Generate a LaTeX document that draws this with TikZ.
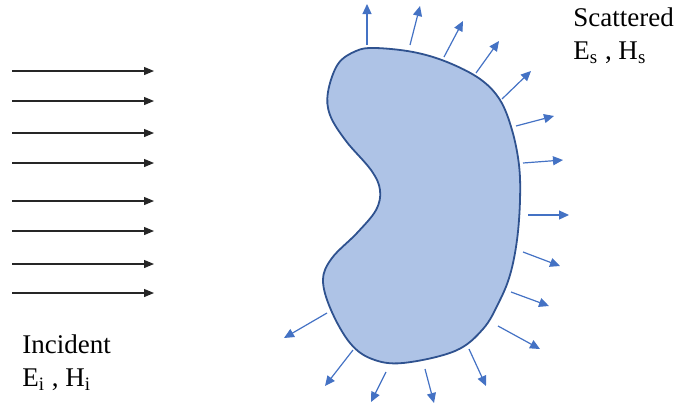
\documentclass[tikz,border=0pt]{standalone}
\usepackage{fontspec}
\setmainfont{Liberation Serif}
\usepackage{tikz}
\usetikzlibrary{arrows.meta}
\definecolor{bodyfill}{RGB}{174,195,230}
\definecolor{bodyline}{RGB}{47,82,143}
\definecolor{scatblue}{RGB}{68,114,196}

\begin{document}
\begin{tikzpicture}[
  x=0.5pt, y=-0.5pt,
  every node/.style={font=\fontsize{13.5}{16}\selectfont, inner sep=0pt},
  inc/.style={-{Triangle[length=5pt, width=4pt]}, line width=0.6pt, black!85},
  scat/.style={-{Triangle[length=5pt, width=4.5pt]}, line width=0.6pt, scatblue},
  lbl/.style={anchor=base west}
]
\useasboundingbox (0,0) rectangle (678,407);
% scatterer
\draw[bodyline, line width=0.9pt, fill=bodyfill] plot[smooth cycle, tension=0.6] coordinates {
  (375,48) (413,52) (447,62) (480,79) (500,100) (512,130) (519,165) (520,200)
  (517,240) (510,275) (499,302) (483,329) (455,351) (403,363) (372,359)
  (350,343) (331,310) (323,280) (332,258) (357,233) (376,210) (380,190)
  (371,170) (346,141) (330,115) (328,92) (338,64) (356,51)};
% incident field
\foreach \y [count=\i] in {71,101,133,163,201,231,264,293} {
  \coordinate (i\i a) at (12,\y);
  \coordinate (i\i b) at (154,\y);
  \draw[inc] (i\i a) -- (i\i b);
}
% scattered field
\foreach \xa/\ya/\xb/\yb [count=\i] in {
  367/45/367/4, 410/45/420/6, 444/57/463/21, 476/73/499/41, 502/99/531/71,
  516/126/554/116, 523/163/563/160, 528/215/569/215, 523/252/560/266,
  511/292/549/306, 498/326/540/349, 469/349/486/386, 425/369/434/403,
  386/372/371/402, 353/350/325/386, 327/313/284/338} {
  \coordinate (s\i a) at (\xa,\ya);
  \coordinate (s\i b) at (\xb,\yb);
  \draw[scat] (s\i a) -- (s\i b);
}
\node[lbl] (inc1) at (22,353) {Incident};
\node[lbl] (inc2) at (22,386) {E\textsubscript{i} , H\textsubscript{i}};
\node[lbl] (sca1) at (573,26) {Scattered};
\node[lbl] (sca2) at (573,59) {E\textsubscript{s} , H\textsubscript{s}};
\end{tikzpicture}
\end{document}
